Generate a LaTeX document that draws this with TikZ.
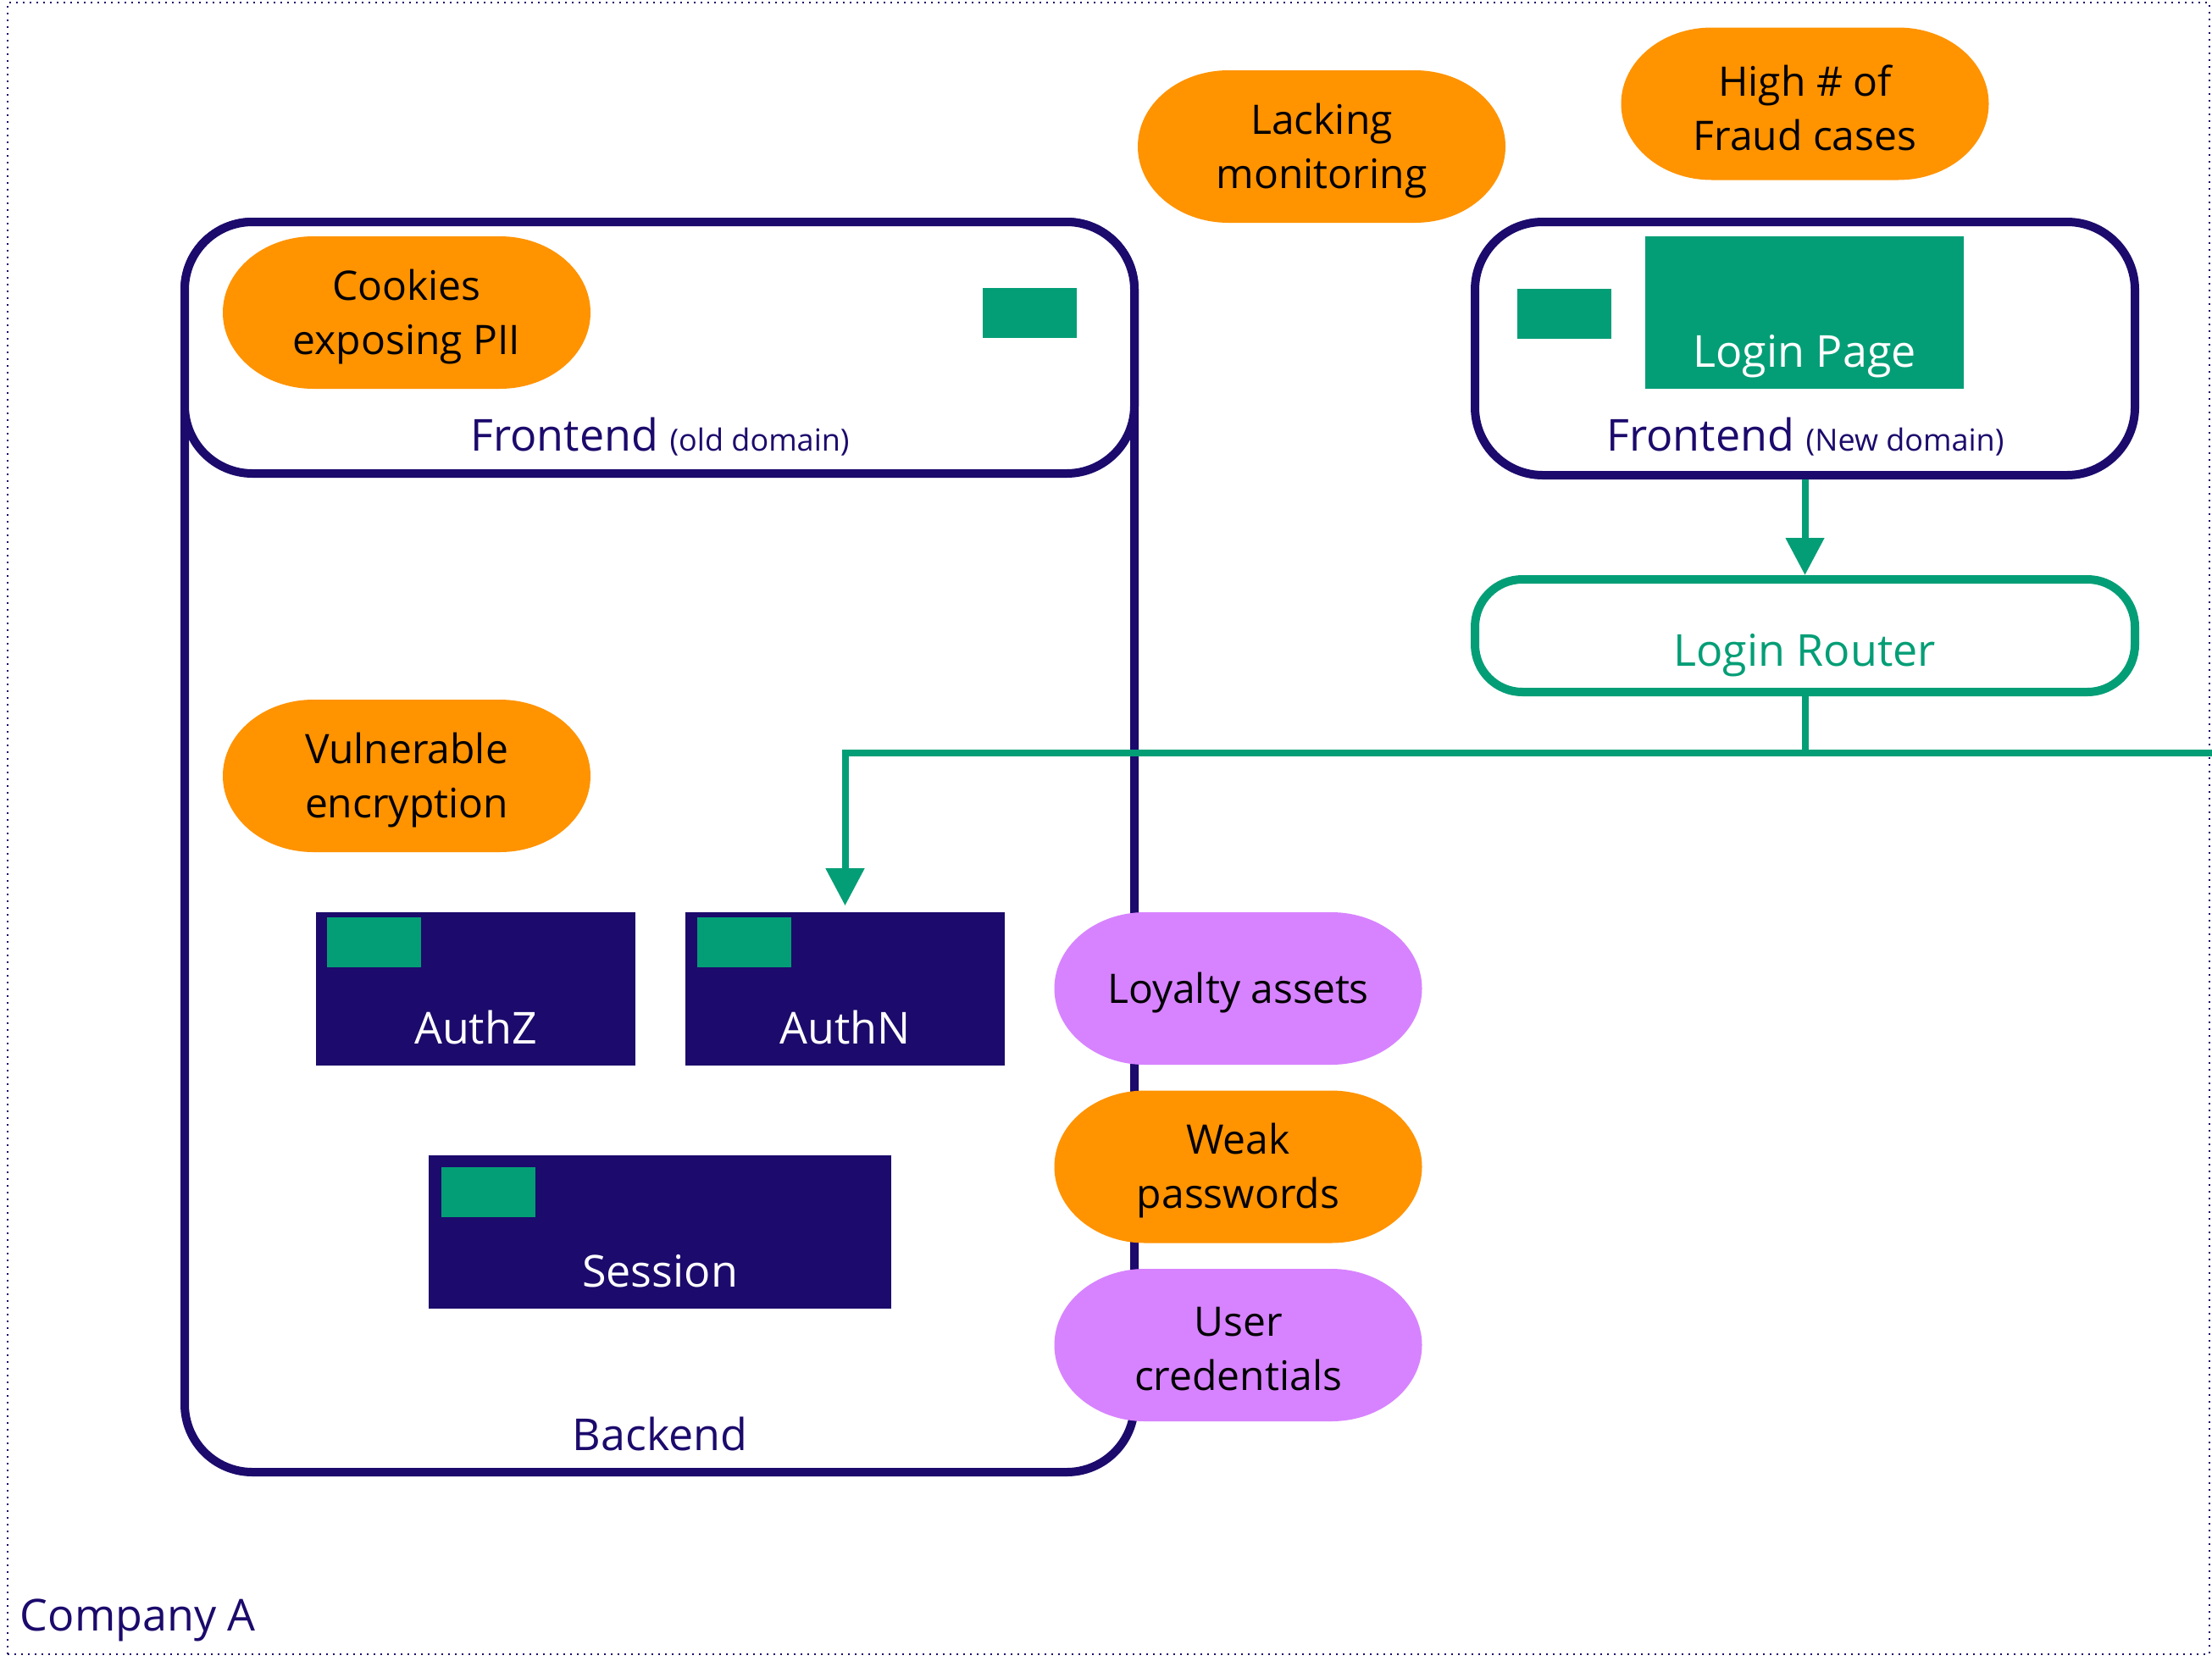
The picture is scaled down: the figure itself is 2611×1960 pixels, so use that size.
\documentclass[tikz,border=0pt]{standalone}
\usepackage{fontspec}
\setmainfont{Open Sans}
\usetikzlibrary{arrows.meta}
\definecolor{navy}{RGB}{28,10,108}
\definecolor{teal2}{RGB}{4,158,118}
\definecolor{orng}{RGB}{255,147,0}
\definecolor{lilac}{RGB}{215,131,255}
\tikzset{
  companybox/.style={draw=navy, line width=0.5pt, dash pattern=on 0.5pt off 1.5pt, inner sep=0pt},
  outlinebox/.style={draw=navy, line width=2.5pt, rounded corners=20pt, fill=white, inner sep=0pt},
  routerbox/.style={draw=teal2, line width=2.5pt, rounded corners=14pt, fill=white, inner sep=0pt},
  solidbox/.style={fill=navy, inner sep=0pt, minimum height=45.25pt},
  chip/.style={fill=teal2, inner sep=0pt, minimum width=27.75pt, minimum height=14.75pt},
  bigtext/.style={font=\fontsize{13pt}{16pt}\selectfont, inner sep=0pt},
  pilltext/.style={font=\fontsize{12pt}{16pt}\selectfont, align=center, text=black, inner sep=0pt},
  conn/.style={draw=teal2, line width=2pt},
  tip/.style={-{Triangle[length=11pt,width=11pt]}}
}
\newcommand\subtext[1]{{\fontsize{9pt}{11pt}\selectfont #1}}
\newcommand\pill[5]{%
  \fill[#4] ({#2-110},{#3-90}) -- ({#2+110},{#3-90})
    arc[start angle=90, end angle=-90, x radius=26.75pt, y radius=22.5pt]
    -- ({#2-110},{#3+90})
    arc[start angle=270, end angle=90, x radius=26.75pt, y radius=22.5pt] -- cycle;
  \node[pilltext] (#1) at (#2,{#3+5}) {#5};
}
\begin{document}
\begin{tikzpicture}[x=0.25pt,y=-0.25pt]
\useasboundingbox (0,0) rectangle (2611,1960);
% company boundary
\node[companybox, minimum width=649.75pt, minimum height=487.5pt] (company) at (1308.5,978) {};
\node[bigtext, navy, anchor=base west] (companylbl) at (23,1925) {Company A};

% backend and old frontend
\node[outlinebox, minimum width=280.25pt, minimum height=369pt] (backend) at (778.5,1000) {};
\node[bigtext, navy, anchor=base] (backendlbl) at (779,1712) {Backend};
\node[outlinebox, minimum width=280.25pt, minimum height=74.25pt] (feold) at (778.5,410.5) {};
\node[bigtext, navy, anchor=base] (feoldlbl) at (779,532) {Frontend \subtext{(old domain)}};
\node[chip] (feoldchip) at (1215.5,369.5) {};

% new frontend
\node[outlinebox, minimum width=194.75pt, minimum height=74.75pt] (fenew) at (2130.5,411.5) {};
\node[bigtext, navy, anchor=base] (fenewlbl) at (2131,532) {Frontend \subtext{(New domain)}};
\node[chip] (fenewchip) at (1846.5,370) {};
\node[fill=teal2, inner sep=0pt, minimum width=94pt, minimum height=45pt] (loginpage) at (2130,369) {};
\node[bigtext, white, anchor=base] (loginpagelbl) at (2130,433) {Login Page};

% login router
\node[routerbox, minimum width=194.75pt, minimum height=33.25pt] (router) at (2130.5,750.5) {};
\node[bigtext, teal2, anchor=base] (routerlbl) at (2130,786) {Login Router};

% services
\node[solidbox, minimum width=94.25pt] (authz) at (561.5,1167.5) {};
\node[chip] (authzchip) at (441.5,1112.5) {};
\node[bigtext, white, anchor=base] (authzlbl) at (561.5,1232) {AuthZ};
\node[solidbox, minimum width=94.25pt] (authn) at (997.5,1167.5) {};
\node[chip] (authnchip) at (878.5,1112.5) {};
\node[bigtext, white, anchor=base] (authnlbl) at (997.5,1232) {AuthN};
\node[solidbox, minimum width=136.5pt] (session) at (779,1454.5) {};
\node[chip] (sessionchip) at (576.5,1407.5) {};
\node[bigtext, white, anchor=base] (sessionlbl) at (779,1519) {Session};

% connectors
\draw[conn, tip] (fenew.south) -- (router.north);
\coordinate (junc) at (2130.5,889);
\coordinate (offright) at (2611,889);
\draw[conn] (router.south) -- (junc);
\draw[conn] (junc) -- (offright);
\draw[conn, tip, shorten >=1.75pt] (junc) -| (authn.north);

% threats and assets
\pill{cookies}{480}{369}{orng}{Cookies\\exposing PII}
\pill{vuln}{480}{916}{orng}{Vulnerable\\encryption}
\pill{lacking}{1560}{173}{orng}{Lacking\\monitoring}
\pill{fraud}{2130.5}{122.5}{orng}{High \# of\\Fraud cases}
\pill{loyalty}{1461.5}{1167}{lilac}{Loyalty assets}
\pill{weak}{1461.5}{1377.5}{orng}{Weak\\passwords}
\pill{creds}{1461.5}{1588}{lilac}{User\\credentials}
\end{tikzpicture}
\end{document}
